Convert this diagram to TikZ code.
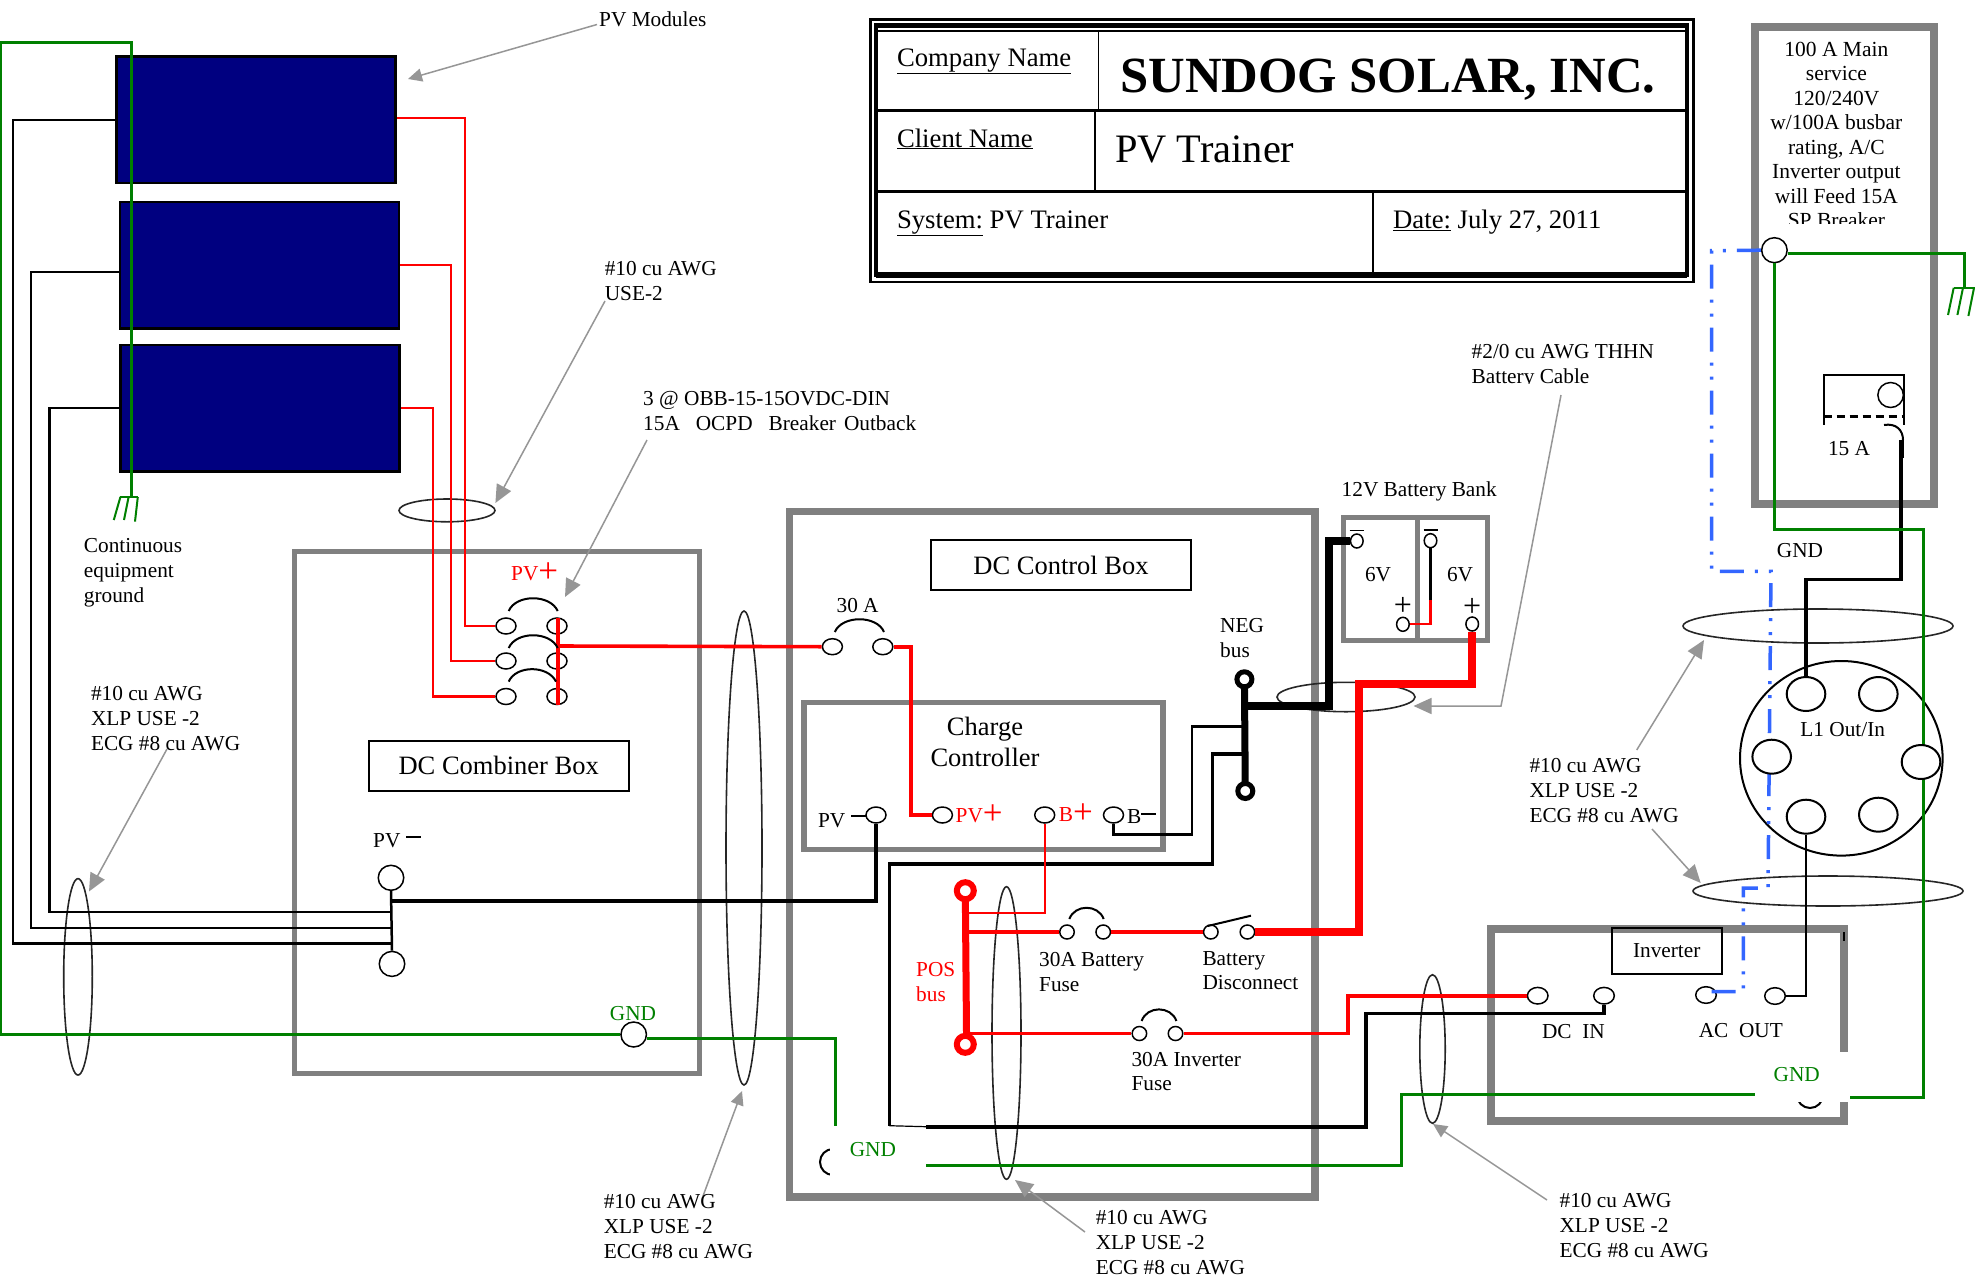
\documentclass[tikz,border=0pt]{standalone}
\usepackage{fontspec}
\setmainfont{Liberation Serif}
\usetikzlibrary{arrows.meta,shapes.geometric}
\definecolor{boxgray}{HTML}{808080}
\definecolor{leadgray}{HTML}{969696}
\definecolor{wiregreen}{HTML}{008000}
\definecolor{acblue}{HTML}{3366FF}
\definecolor{panelblue}{HTML}{000080}
\newcommand{\bigplus}{\raisebox{-2pt}{\fontsize{35}{35}\selectfont+}}
\newcommand{\barminus}[1]{\rule[#1]{15pt}{2pt}}
\tikzset{
	note/.style={align=left,anchor=north west,inner sep=0pt,font=\fontsize{21.3}{25}\selectfont},
	txt/.style={inner sep=0pt,font=\fontsize{21.3}{25}\selectfont},
	txtb/.style={inner sep=0pt,anchor=base west,font=\fontsize{21.3}{25}\selectfont},
	tbl/.style={inner sep=0pt,anchor=base west,font=\fontsize{26.7}{30}\selectfont},
	namebox/.style={draw,line width=2pt,inner sep=0pt,font=\fontsize{26.5}{30}\selectfont},
	panel/.style={draw,fill=panelblue,line width=2.5pt,inner sep=0pt,minimum width=279pt,minimum height=126.5pt},
	bundle/.style={ellipse,draw=black!85,line width=1.6pt,inner sep=0pt},
	term/.style={ellipse,draw,fill=white,line width=1.5pt,inner sep=0pt,minimum width=20pt,minimum height=16pt},
	smallterm/.style={term,minimum width=14.5pt,minimum height=14pt},
	batterm/.style={term,minimum width=12.6pt,minimum height=14pt},
	bigterm/.style={term,minimum width=25.5pt,minimum height=25pt},
	socket/.style={term,line width=2pt,minimum width=38.6pt,minimum height=34pt},
	ring/.style={circle,draw,fill=white,inner sep=0pt},
	box/.style={draw=boxgray,line width=5.5pt},
	leader/.style={draw=leadgray,line width=1.5pt,-{Triangle[length=18pt,width=16pt]}},
	leaderS/.style={draw=leadgray,line width=1.5pt,-{Triangle[length=14pt,width=13pt]}},
	redthin/.style={draw=red,line width=2.2pt},
	redmid/.style={draw=red,line width=3.6pt},
	redheavy/.style={draw=red,line width=8pt},
	blackthin/.style={draw=black,line width=2.5pt},
	blackmid/.style={draw=black,line width=3.6pt},
	blackheavy/.style={draw=black,line width=7.3pt},
	greenwire/.style={draw=wiregreen,line width=3pt},
	bluewire/.style={draw=acblue,line width=3.5pt,dash pattern=on 24pt off 11pt on 3pt off 11pt on 3pt off 11pt},
	jumper/.style={line width=2pt}
}
\begin{document}
\begin{tikzpicture}[x=1pt,y=-1pt]
				\useasboundingbox(0,0) rectangle (1975,1274);
				\fill[white](0,0) rectangle (1975,1274);
				\draw[line width=2.5pt](870.5,19.5) rectangle (1693.5,282);
				\draw[line width=4.5pt](876,25.5) rectangle (1687,275);
				\fill(876,23) rectangle (1687,28);
				\fill(876,271.5) rectangle (1687,278);
				\draw[line width=2pt](877,30.5) -- (1686,30.5);
				\draw[line width=2.5pt](877,110.7) -- (1686,110.7);
				\draw[line width=2.5pt](877,191.3) -- (1686,191.3);
				\draw[line width=1.5pt](1098.6,30) -- (1098.6,110.7);
				\draw[line width=1.5pt](1094.8,110.7) -- (1094.8,191.3);
				\draw[line width=1.5pt](1373,191.3) -- (1373,272);
				\draw(896.8,66) node[tbl](titleCo){\underline{Company Name}};
				\draw(896.8,147) node[tbl](titleCl){\underline{Client Name}};
				\draw(896.8,228) node[tbl](titleSys){\underline{System:} PV Trainer};
				\draw(1393,228) node[tbl](titleDate){\underline{Date:} July 27, 2011};
				\draw(1120,92.5) node[tbl,font=\fontsize{50.7}{54}\selectfont\bfseries](titleSun){SUNDOG SOLAR, INC.};
				\draw(1115,162) node[tbl,font=\fontsize{40.4}{44}\selectfont](titlePV){PV Trainer};

				\draw[box](294.4,551.4) rectangle (699.5,1073.5);
				\draw[box,line width=7.5pt](789.7,511.7) rectangle (1315,1197);
				\draw[box](804,702.7) rectangle (1163,849.3);
				\draw[box](1343.3,517.3) rectangle (1487.7,640.7);
				\draw[box](1417.4,517.3) -- (1417.4,640.7);
				\draw[box,line width=8pt](1755.3,26.5) rectangle (1933.5,503.7);
				\draw[box,line width=8pt](1491,929.3) rectangle (1843.7,1121.3);
				\draw[line width=2pt](1843.7,932) -- (1843.7,941);

				\draw(256.2,119.8) node[panel](pvA){};
				\draw(259.4,265) node[panel](pvB){};
				\draw(260,408) node[panel](pvC){};

				\draw(447,510.4) node[bundle,minimum width=96pt,minimum height=22.8pt](cableA){};
				\draw(78,976.8) node[bundle,minimum width=28.6pt,minimum height=196.4pt](cableB){};
				\draw(744,848) node[bundle,minimum width=36pt,minimum height=474pt](cableC){};
				\draw(1006.5,1033) node[bundle,minimum width=29pt,minimum height=292.6pt](cableD){};
				\draw(1432.5,1049) node[bundle,minimum width=25.4pt,minimum height=148.6pt](cableE){};
				\draw(1346,697) node[bundle,minimum width=138pt,minimum height=29.4pt](cableF){};
				\draw(1818,626) node[bundle,minimum width=270pt,minimum height=34pt](cableG){};
				\draw(1828,891) node[bundle,minimum width=270pt,minimum height=30pt](cableH){};

				\draw(833,1162) node[circle,draw,line width=2pt,inner sep=0pt,minimum size=26pt](gndLugA){};
				\draw(1810,1095) node[circle,draw,line width=2pt,inner sep=0pt,minimum size=26pt](gndLugB){};
				\fill[white](830.4,1125.7) rectangle (926,1178);
				\fill[white](1755,1051.7) rectangle (1850,1101.7);

				\coordinate(gndPV) at (131,497);
				\coordinate(gndHouse) at (1964.7,287.8);
				\coordinate(busA) at (391,943.7);
				\coordinate(busB) at (391,928);
				\coordinate(busC) at (391,912);
				\coordinate(combTap) at (391,901);
				\coordinate(combPos) at (558,646);
				\coordinate(negTapA) at (1244.4,726.7);
				\coordinate(negTapB) at (1244.4,754);
				\coordinate(negTapC) at (1244.4,706);
				\coordinate(posTapA) at (966,913.3);
				\coordinate(posTapB) at (966,932);
				\coordinate(posTapC) at (966,1033.5);
				\coordinate(ctlGndIn) at (835,1125.7);
				\coordinate(ctlGndOut) at (926,1165.7);
				\coordinate(ctlNegOut) at (926,1126.7);
				\coordinate(invGndL) at (1755,1094);
				\coordinate(invGndR) at (1850,1097.3);
				\coordinate(brkMain) at (1901,440);
				\coordinate(acTap) at (1707,991.7);

				\draw(506,626) node[term](brkA){};
				\draw(506,661) node[term](brkB){};
				\draw(506,696.5) node[term](brkC){};
				\draw(557,626) node[term](brkAr){};
				\draw(557,661) node[term](brkBr){};
				\draw(557,696.5) node[term](brkCr){};
				\draw(832.4,646.7) node[term](fuseMainL){};
				\draw(882.8,646.7) node[term](fuseMainR){};
				\draw(876,815) node[term](ccPVn){};
				\draw(942.4,815) node[term](ccPVp){};
				\draw(1044.7,815) node[term](ccBp){};
				\draw(1113.5,815) node[term](ccBn){};
				\draw(1067,932) node[smallterm](fuseBatL){};
				\draw(1103.2,932) node[smallterm](fuseBatR){};
				\draw(1210.8,932) node[smallterm](discL){};
				\draw(1247.4,932) node[smallterm](discR){};
				\draw(1139.4,1033.5) node[smallterm](fuseInvL){};
				\draw(1175.5,1033.5) node[smallterm](fuseInvR){};
				\draw(1356.8,541) node[batterm](batNegL){};
				\draw(1430.5,540.7) node[batterm](batNegR){};
				\draw(1402.9,624.3) node[batterm](batPosL){};
				\draw(1472.2,624) node[batterm](batPosR){};
				\draw(1537.7,995.7) node[term,minimum width=20.6pt,minimum height=16.6pt](invDCp){};
				\draw(1604,995.7) node[term,minimum width=20.6pt,minimum height=16.6pt](invDCn){};
				\draw(1706,995) node[term,minimum width=20.6pt,minimum height=16.6pt](acOutL){};
				\draw(1775,996) node[term,minimum width=20.6pt,minimum height=16.6pt](acOutR){};
				\draw(391,877.8) node[bigterm](combTop){};
				\draw(392,963.9) node[bigterm](combBot){};
				\draw(633.7,1034.5) node[bigterm](gndComb){};
				\draw(1774.4,250.2) node[bigterm](mainJ){};
				\draw(1890.6,395) node[bigterm](brkKnob){};
				\draw(1841.3,758.3) node[ellipse,draw,line width=2pt,inner sep=0pt,minimum width=202.6pt,minimum height=194.6pt](spliceBox){};

				\draw[blackthin](pvA.west) -- (12.8,119.8) |- (busA);
				\draw[blackthin]([yshift=-7pt]pvB.west) -- (31,272) |- (busB);
				\draw[blackthin](pvC.west) -- (49.5,408) |- (busC);
				\draw[blackthin](combTop.south) -- (combBot.north);
				\draw[blackmid](combTap) -| (ccPVn.south);
				\draw[blackthin](ccBn.south) |- (1192,834.3) |- (negTapA);
				\draw[blackmid](negTapB) -| (1212.4,864) -| (889.4,1125.7);
				\draw[line width=1.2pt](889.4,1125.7) -- (ctlNegOut);
				\draw[blackmid](ctlNegOut) -| (1366,1013.3) -| (invDCn.south);
				\draw[blackheavy](negTapC) -| (1329,541) -- (batNegL.west);
				\draw[blackthin](batNegR.south) -- (1430.5,600);
				\draw[blackmid](1806,677) -- (1806,579.6) -| (brkMain);
				\draw[line width=5pt](brkMain) -- (1901,458);

				\draw[redthin]([yshift=2pt]pvA.east) -| (464.8,626) -- (brkA.west);
				\draw[redthin](pvB.east) -| (451,661) -- (brkB.west);
				\draw[redthin](pvC.east) -| (433,696.5) -- (brkC.west);
				\draw[redmid](combPos) -- (fuseMainL.west);
				\draw[redmid](fuseMainR.east) -- (911,646.7) |- (ccPVp.west);
				\draw[redthin](ccBp.south) |- (posTapA);
				\draw[redmid](posTapB) -- (fuseBatL.west);
				\draw[redmid](fuseBatR.east) -- (discL.west);
				\draw[redmid](posTapC) -- (fuseInvL.west);
				\draw[redmid](fuseInvR.east) -- (1348,1033.5) |- (invDCp.west);
				\draw[redheavy](discR.east) -- (1359.3,932) |- (1472.2,684) -- (batPosR.south);
				\draw[redthin](1430.5,600) |- (batPosL.east);
				\draw[redmid,line width=4pt](558,618) -- (558,704.7);

				\draw[greenwire](gndPV) -- (131,42) -- (0,42) |- (gndComb.west);
				\draw[greenwire]([yshift=-4pt]gndComb.east) -| (ctlGndIn);
				\draw[greenwire](ctlGndOut) -| (1401,1094) -- (invGndL);
				\draw[greenwire]([yshift=-3pt]mainJ.east) -| (gndHouse);
				\draw[greenwire](mainJ.south) -- (1774.4,529.8) -| (1923.3,1097.3) -- (invGndR);

				\draw[bluewire](mainJ.west) -- (1711.7,250.7) -- (1711.7,571.4) -- (1771,571.4) -- (1768,888) -- (1743.3,888) -- (1743.3,991.7) -- (acTap);

				\draw(1806,694) node[socket](sockA){};
				\draw(1878.3,694) node[socket](sockB){};
				\draw(1771.7,756.7) node[socket](sockC){};
				\draw(1921,762) node[socket](sockE){};
				\draw(1806,816.7) node[socket](sockD){};
				\draw(1878.3,814.7) node[socket](sockF){};
				\draw[blackthin](sockD.south) |- (acOutR.east);

				\draw[line width=7pt,color=red](965.3,890.7) -- (966.6,1044.3);
				\draw(965.3,890.7) node[ring,color=red,fill=white,line width=6pt,minimum size=17pt](posTop){};
				\draw(965.3,1044.3) node[ring,color=red,fill=white,line width=6pt,minimum size=17pt](posBot){};
				\draw[line width=7pt](1244.4,679.3) -- (1245.3,791);
				\draw(1244.4,679.3) node[ring,line width=5pt,minimum size=15pt](negTop){};
				\draw(1245.3,791) node[ring,line width=5pt,minimum size=15pt](negBot){};

				\draw[jumper](508.7,611) .. controls (516,594) and (550,594) .. (557.7,611);
				\draw[jumper](508.7,648) .. controls (516,631) and (550,631) .. (557.7,648);
				\draw[jumper](508.7,681.6) .. controls (516,665) and (548,665) .. (556,681.6);
				\draw[jumper](834.8,632) .. controls (842,615) and (877,615) .. (884,632);
				\draw[jumper](1069.3,919) .. controls (1075,904) and (1098,904) .. (1103.7,919);
				\draw[jumper](1141.6,1021) .. controls (1147,1005.5) and (1171,1005.5) .. (1176.4,1021);
				\draw[jumper](1207.7,926) -- (1251,915.7);
				\draw[jumper](1823.5,424.5) |- (1904,374.7) -- (1904,424.5);
				\draw[jumper,dash pattern=on 8pt off 5pt,line width=3pt](1823.5,416) -- (1904,416);
				\draw[jumper](1884,425) .. controls (1896,423) and (1903,430) .. (1903,440);

				\draw[greenwire,line width=2pt](120.4,497) -- (137.8,497);
				\draw[greenwire,line width=2pt](120.4,497) -- (113.8,520);
				\draw[greenwire,line width=2pt](128.6,497) -- (124,520);
				\draw[greenwire,line width=2pt](137.8,497) -- (135,521.6);
				\draw[greenwire,line width=2pt](1953.7,287.8) -- (1975,287.8);
				\draw[greenwire,line width=2pt](1953.7,287.8) -- (1948,315);
				\draw[greenwire,line width=2pt](1963,287.8) -- (1957.4,315);
				\draw[greenwire,line width=2pt](1974,287.8) -- (1968.4,316);
				\draw[line width=1.5pt](1349.6,530.7) -- (1364,530.7);
				\draw[line width=1.5pt](1423.7,530) -- (1438.3,530);

				\coordinate(ldrA) at (597,24.5);
				\coordinate(tipA) at (408,79);
				\coordinate(ldrB) at (605,301);
				\coordinate(tipB) at (495.4,503);
				\coordinate(ldrC) at (647,440);
				\coordinate(tipC) at (565,597);
				\coordinate(ldrD) at (167,749);
				\coordinate(tipD) at (89,891.5);
				\coordinate(ldrE) at (703,1196);
				\coordinate(tipE) at (742,1091);
				\coordinate(ldrF) at (1085,1232);
				\coordinate(tipF) at (1015,1180);
				\coordinate(ldrG) at (1547,1200);
				\coordinate(tipG) at (1433,1124);
				\coordinate(ldrH) at (1636.7,750);
				\coordinate(tipH) at (1704,640);
				\coordinate(ldrI) at (1652,829);
				\coordinate(tipI) at (1700.7,883);
				\coordinate(ldrJ) at (1561,395);
				\coordinate(tipJ) at (1413.5,706);
				\draw[leaderS](ldrA) -- (tipA);
				\draw[leader](ldrB) -- (tipB);
				\draw[leader](ldrC) -- (tipC);
				\draw[leader](ldrD) -- (tipD);
				\draw[leaderS](ldrE) -- (tipE);
				\draw[leader](ldrF) -- (tipF);
				\draw[leaderS](ldrG) -- (tipG);
				\draw[leader](ldrH) -- (tipH);
				\draw[leader](ldrI) -- (tipI);
				\draw[leader](ldrJ) -- (1501,706) -- (tipJ);

				\draw(498.7,765.5) node[namebox,minimum width=260pt,minimum height=50pt](combLabel){DC Combiner Box};
				\draw(1061,565) node[namebox,minimum width=260pt,minimum height=50pt](ctlLabel){DC Control Box};
				\draw(1666.7,950.5) node[namebox,font=\fontsize{21.3}{25}\selectfont,minimum width=110pt,minimum height=46pt](invLabel){Inverter};

				\draw(599,12) node[note](lblModules){PV Modules};
				\draw(604.6,261) node[note](lblUse){\#10 cu AWG\\USE-2};
				\draw(643,391) node[note](lblObb){3 @ OBB-15-15OVDC-DIN\\15A\ \ \ OCPD\ \ \ Breaker\hspace{8pt}Outback};
				\draw(83.7,538) node[note](lblCont){Continuous\\equipment\\ground};
				\draw(90.8,686.5) node[note](lblWireA){\#10 cu AWG\\XLP USE -2\\ECG \#8 cu AWG};
				\draw(603.6,1194.5) node[note](lblWireB){\#10 cu AWG\\XLP USE -2\\ECG \#8 cu AWG};
				\draw(1095.6,1210) node[note](lblWireC){\#10 cu AWG\\XLP USE -2\\ECG \#8 cu AWG};
				\draw(1559.4,1193.5) node[note](lblWireD){\#10 cu AWG\\XLP USE -2\\ECG \#8 cu AWG};
				\draw(1529.3,758.5) node[note](lblWireE){\#10 cu AWG\\XLP USE -2\\ECG \#8 cu AWG};
				\begin{scope}
				\clip(1450,340) rectangle (1700,383.7);
				\draw(1471.5,344) node[note](lblCable){\#2/0 cu AWG THHN\\Battery Cable};
				\end{scope}
				\begin{scope}
				\clip(1765,30) rectangle (1925,223.5);
				\draw(1836.4,41.5) node[note,anchor=north,align=center,font=\fontsize{21.5}{24.5}\selectfont](lblMain){100 A Main\\service\\120/240V\\w/100A busbar\\rating, A/C\\Inverter output\\will Feed 15A\\SP Breaker};
				\end{scope}
				\draw(1341.5,491) node[txt,anchor=west](lblBank){12V Battery Bank};
				\draw(857.6,605.3) node[txt](lblMainFuse){30 A};
				\draw(1378,575) node[txt](lblSixA){6V};
				\draw(1460,575) node[txt](lblSixB){6V};
				\draw(1402.9,606.7) node[txt,font=\fontsize{32}{32}\selectfont](lblPlusA){+};
				\draw(1472.2,607.3) node[txt,font=\fontsize{32}{32}\selectfont](lblPlusB){+};
				\draw(1220,618.5) node[note](lblNeg){NEG\\bus};
				\draw(916,962) node[note,text=red](lblPos){POS\\bus};
				\draw(1039,952) node[note](lblFuseB){30A Battery\\Fuse};
				\draw(1202.3,951) node[note,font=\fontsize{21.3}{24.5}\selectfont](lblDisc){Battery\\Disconnect};
				\draw(1131.3,1052) node[note,font=\fontsize{21.3}{24.5}\selectfont](lblFuseI){30A Inverter\\Fuse};
				\draw(985,729.5) node[txt,font=\fontsize{26.5}{30}\selectfont](lblChargeA){Charge};
				\draw(985,757) node[txt,font=\fontsize{26.5}{30}\selectfont](lblChargeB){Controller};
				\draw(511,580) node[txtb,text=red](lblPVp){PV\bigplus};
				\draw(373,847) node[txtb](lblPVn){PV\hspace{6pt}\barminus{9pt}};
				\draw(817.8,827) node[txtb](lblCcPVn){PV\hspace{6pt}\barminus{10pt}};
				\draw(955.5,822) node[txtb,text=red](lblCcPVp){PV\bigplus};
				\draw(1058.7,821) node[txtb,text=red](lblCcBp){B\bigplus};
				\draw(1127,823) node[txtb](lblCcBn){B\barminus{8pt}};
				\draw(633,1013.5) node[txt,text=wiregreen](lblGndA){GND};
				\draw(872.9,1149.5) node[txt,text=wiregreen](lblGndB){GND};
				\draw(1796.7,1074.5) node[txt,text=wiregreen](lblGndC){GND};
				\draw(1800,551) node[txt](lblGndD){GND};
				\draw(1849,449) node[txt](lblBrk){15 A};
				\draw(1842.7,729.3) node[txt](lblL){L1 Out/In};
				\draw(1573.4,1031.7) node[txt](lblDC){DC\ \ IN};
				\draw(1740.8,1030.7) node[txt](lblAC){AC\ \ OUT};
\end{tikzpicture}
\end{document}
